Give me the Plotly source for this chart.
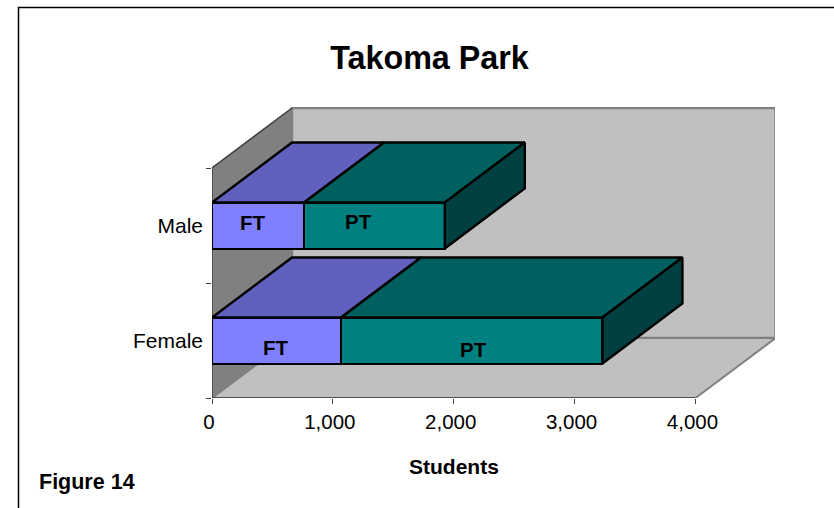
import plotly.graph_objects as go

categories = ["Female", "Male"]
ft_values = [1068, 762]
pt_values = [2162, 1164]
x_ticks = [0, 1000, 2000, 3000, 4000]
x_tick_labels = ["0", "1,000", "2,000", "3,000", "4,000"]
title_text = "Takoma Park"
x_title = "Students"
figure_label = "Figure 14"

W, H = 834, 508
L, R, T, B = 212, 775, 107, 398
PX_PER_UNIT = 483.5 / 4000
BAND_PX = 115
DX, DY = 80 / PX_PER_UNIT, 60 / BAND_PX   # 3-D depth in data units
XMAX = (R - L) / PX_PER_UNIT
YMAX = (B - T) / BAND_PX
BAR_W = 0.4
FONT = "Liberation Sans, Arial, sans-serif"
ys = [0.5, 1.5]
GREY = "#808080"
EDGE = 2.4


def path(pts, close=True):
    return "M " + " L ".join(f"{x},{y}" for x, y in pts) + (" Z" if close else "")


shapes = [
    dict(type="path", layer="below", line=dict(color=GREY, width=2.5), fillcolor="#C0C0C0",
         path=path([(DX, DY), (DX + 4000, DY), (DX + 4000, 2 + DY), (DX, 2 + DY)])),
    dict(type="path", layer="below", line=dict(color=GREY, width=1), fillcolor=GREY,
         path=path([(0, 0), (DX, DY), (DX, 2 + DY), (0, 2)])),
    dict(type="path", layer="below", line=dict(color=GREY, width=2), fillcolor="#C0C0C0",
         path=path([(0, 0), (4000, 0), (4000 + DX, DY), (DX, DY)])),
    # dark front edges of the box
    dict(type="path", layer="below", line=dict(color="#404040", width=1.5),
         path=path([(4000, 0), (0, 0), (0, 2), (DX, 2 + DY)], close=False)),
    # outer frame
    dict(type="rect", xref="paper", yref="paper", layer="below",
         x0=(18.5 - L) / (R - L), x1=(W + 10 - L) / (R - L),
         y0=(B - H - 10) / (B - T), y1=(B - 7.5) / (B - T),
         line=dict(color="#000000", width=1.5), fillcolor="rgba(0,0,0,0)"),
]

fig = go.Figure()
fig.add_trace(go.Bar(y=ys, x=ft_values, orientation="h", width=BAR_W, name="FT",
                     marker=dict(color="#8080FF", line=dict(color="#000000", width=EDGE))))
fig.add_trace(go.Bar(y=ys, x=pt_values, orientation="h", width=BAR_W, name="PT",
                     marker=dict(color="#008080", line=dict(color="#000000", width=EDGE))))


def face(xs, yy, color):
    fig.add_trace(go.Scatter(x=xs, y=yy, mode="lines", fill="toself", fillcolor=color,
                             line=dict(color="#000000", width=EDGE), hoverinfo="skip"))


for y, ft, pt in zip(ys, ft_values, pt_values):
    top = y + BAR_W / 2
    bottom = y - BAR_W / 2
    total = ft + pt
    face([0, ft, ft + DX, DX, 0], [top, top, top + DY, top + DY, top], "#6060BF")
    face([ft, total, total + DX, ft + DX, ft], [top, top, top + DY, top + DY, top], "#006060")
    face([total, total + DX, total + DX, total, total],
         [bottom, bottom + DY, top + DY, top, bottom], "#004040")

annotations = []
# in-bar labels: (category index, centre value, pixel nudges)
for i, (ft, pt) in enumerate(zip(ft_values, pt_values)):
    nudges = [((-1, -7), (2, -9)), ((-5, 3), (-16, 4))][i]
    for text, c, (xs, yshift) in zip(["FT", "PT"], [ft / 2, ft + pt / 2], nudges):
        annotations.append(dict(x=c, y=ys[i], text=f"<b>{text}</b>", showarrow=False,
                                xshift=xs, yshift=yshift,
                                font=dict(family=FONT, size=20.5, color="#000000")))
annotations.append(dict(x=2000, xref="x", y=(B - 466) / (B - T), yref="paper", yanchor="middle",
                        text=f"<b>{x_title}</b>", showarrow=False,
                        font=dict(family=FONT, size=21, color="#000000")))
annotations.append(dict(x=(37 - L) / (R - L), xref="paper", xanchor="left",
                        y=(B - 482) / (B - T), yref="paper", yanchor="middle",
                        text=f"<b>{figure_label}</b>", showarrow=False,
                        font=dict(family=FONT, size=21.5, color="#000000")))

fig.update_layout(
    width=W, height=H, autosize=False, barmode="stack", bargap=0,
    margin=dict(l=L, r=W - R, t=T, b=H - B, pad=0),
    paper_bgcolor="#FFFFFF", plot_bgcolor="rgba(0,0,0,0)",
    showlegend=False, shapes=shapes, annotations=annotations,
    title=dict(text=f"<b>{title_text}</b>", x=429.5 / W, xanchor="center",
               y=1 - 58 / H, yanchor="middle",
               font=dict(family=FONT, size=32.3, color="#000000")),
    font=dict(family=FONT, size=20, color="#000000"),
    xaxis=dict(range=[0, XMAX], tickvals=x_ticks, ticktext=x_tick_labels,
               ticks="outside", ticklen=5, tickcolor="#404040", tickwidth=1,
               showgrid=False, zeroline=False, showline=False, ticklabelshift=-3,
               tickfont=dict(family=FONT, size=20.5, color="#000000")),
    yaxis=dict(range=[0, YMAX], tickvals=ys, ticktext=categories, ticks="",
               showgrid=False, zeroline=False, showline=False, ticklabelstandoff=8,
               tickfont=dict(family=FONT, size=21, color="#000000"),
               minor=dict(tickvals=[0, 1, 2], ticks="outside", ticklen=5,
                          tickcolor="#404040", tickwidth=1, showgrid=False)),
)

fig.write_html("out.html", config=dict(displayModeBar=False),
               post_script="document.body.style.margin='0';document.body.style.overflow='hidden';")
